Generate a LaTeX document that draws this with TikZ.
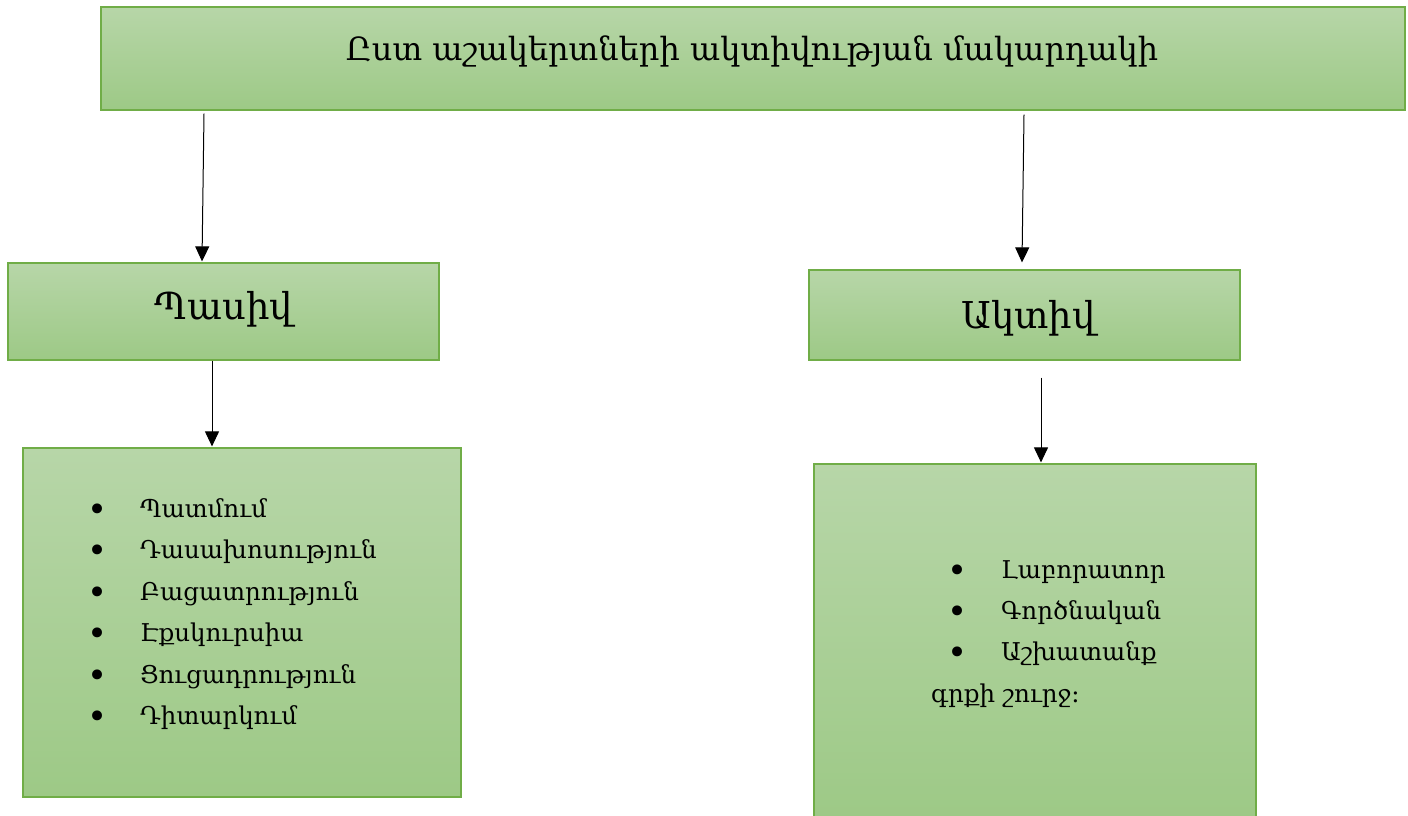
\documentclass[tikz,border=0pt]{standalone}
\usepackage{fontspec}
\setmainfont{DejaVu Serif}
\usetikzlibrary{arrows.meta}
\definecolor{gtop}{RGB}{183,214,168}
\definecolor{gbot}{RGB}{157,201,134}
\definecolor{gline}{RGB}{112,173,71}
\newcommand{\bul}{\raisebox{-4pt}{\fontsize{34}{34}\selectfont •}}
\tikzset{
  gbox/.style={rectangle, inner sep=0pt, draw=gline, line width=1.2pt, top color=gtop, bottom color=gbot},
  boxlabel/.style={anchor=base, inner sep=0pt, text=black},
  arr/.style={draw=black, line width=1pt, -{Triangle[length=15pt,width=14pt]}},
  listtext/.style={anchor=base west, inner sep=0pt, align=left}
}
\begin{document}
\begin{tikzpicture}[x=1pt,y=-1pt]
\useasboundingbox (0,0) rectangle (1408,816);
\node[gbox, minimum width=1304pt, minimum height=103pt] (top) at (753,58.5) {};
\node[gbox, minimum width=431pt, minimum height=97pt] (pasiv) at (223.5,311.5) {};
\node[gbox, minimum width=431pt, minimum height=90pt] (aktiv) at (1024.5,315) {};
\node[gbox, minimum width=438pt, minimum height=349pt] (llist) at (242,622.5) {};
\node[gbox, minimum width=442pt, minimum height=356pt] (rlist) at (1035,642) {};
\node[boxlabel, font=\fontsize{32}{36}\selectfont] (toptext) at (752,61) {Ըստ աշակերտների ակտիվության մակարդակի};
\node[boxlabel, font=\fontsize{37}{42}\selectfont] (pasivtext) at (224,319) {Պասիվ};
\node[boxlabel, font=\fontsize{37}{42}\selectfont] (aktivtext) at (1028.5,328) {Ակտիվ};
\node[listtext] (ltext) at (87,517.5) {\fontsize{24.5}{41.4}\selectfont
\begin{tabular}[t]{@{}p{53pt}@{}l@{}}
\bul & Պատմում\\
\bul & Դասախոսություն\\
\bul & Բացատրություն\\
\bul & Էքսկուրսիա\\
\bul & Ցուցադրություն\\
\bul & Դիտարկում
\end{tabular}};
\node[listtext] (rtext) at (931,578) {\fontsize{24.5}{41.4}\selectfont
\begin{tabular}[t]{@{}p{16pt}@{}p{54pt}@{}l@{}}
& \bul & Լաբորատոր\\
& \bul & Գործնական\\
& \bul & Աշխատանք\\
\multicolumn{3}{@{}l@{}}{գրքի շուրջ։}
\end{tabular}};
\draw[arr] ([xshift=-549pt,yshift=-3pt]top.south) -- ([xshift=-21.5pt,yshift=1pt]pasiv.north);
\draw[arr] ([xshift=271pt,yshift=-4pt]top.south) -- ([xshift=-2.5pt,yshift=7pt]aktiv.north);
\draw[arr] ([xshift=-11.5pt]pasiv.south) -- ([xshift=-30pt,yshift=1pt]llist.north);
\draw[arr] ([xshift=16.5pt,yshift=-17pt]aktiv.south) -- ([xshift=6pt,yshift=1pt]rlist.north);
\end{tikzpicture}
\end{document}
